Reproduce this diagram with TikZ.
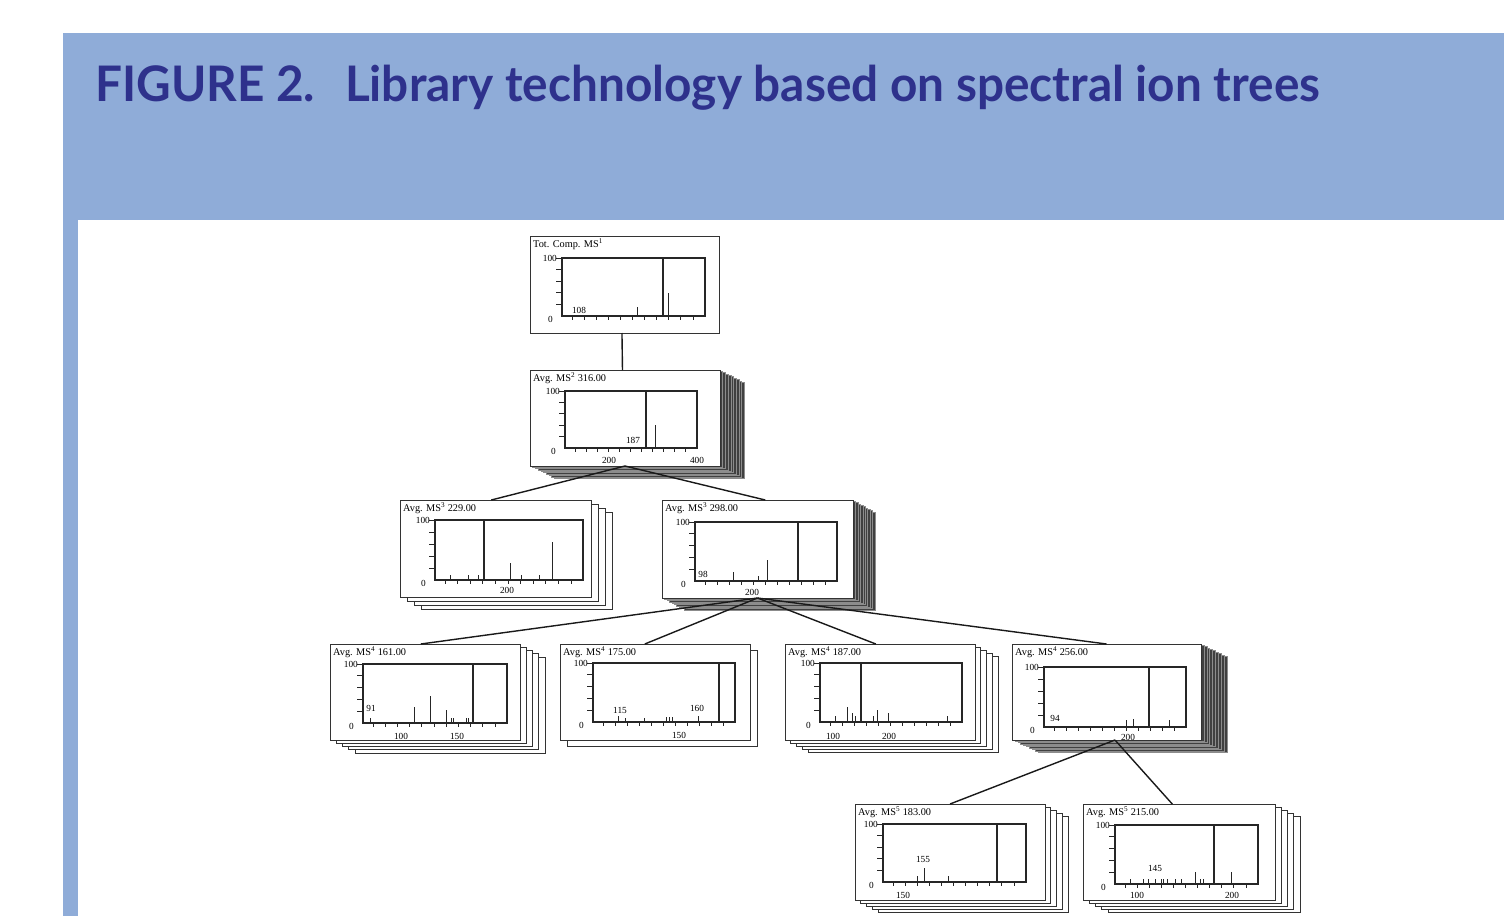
\documentclass[tikz,border=0pt]{standalone}
\usepackage{fontspec}
\usepackage{graphicx}
\setmainfont{Liberation Serif}
\newfontfamily\headfont{Lato}
\definecolor{band-blue}{RGB}{143,172,216}
\definecolor{title-blue}{RGB}{46,49,140}
\tikzstyle{sheet}=[draw=black!80,fill=white,line width=0.9pt]
\tikzstyle{back-sheet}=[sheet]
\tikzstyle{dark-sheet}=[sheet,fill=black!75,draw=black!45,line width=0.6pt]
\tikzstyle{front-sheet}=[sheet,rectangle,inner sep=0pt,outer sep=0pt,anchor=north west]
\tikzstyle{sheet-title}=[font=\fontsize{10.3}{11}\selectfont,inner sep=0pt,anchor=north west]
\tikzstyle{tick-label}=[font=\fontsize{9.3}{10}\selectfont,inner sep=0pt]
\tikzstyle{axis-line}=[draw=black!85,line width=1.2pt]
\tikzstyle{peak-line}=[draw=black!85,line width=0.9pt]
\tikzstyle{tree-line}=[draw=black!90,line width=1.4pt]

% stacked spectrum sheet: name, left, top, right, bottom, copies, dx, dy, title
\newcommand{\ionsheet}[9]{%
  \foreach \k in {#6,...,1}
    \draw[back-sheet] ({#2+\k*#7},{#3+\k*#8}) rectangle ({#4+\k*#7},{#5+\k*#8});
  \node (#1)[front-sheet,minimum width={#4-#2},minimum height={#5-#3}] at (#2,#3) {};
  \node (#1-title)[sheet-title] at ({#2+3},{#3+3}) {#9};
}
% plot frame: name, left, top, right, bottom, precursor line
\newcommand{\ionaxes}[6]{%
  \draw[axis-line] (#2,#3) rectangle (#4,#5);
  \draw[axis-line] (#6,#3) -- (#6,#5);
  \foreach \k in {0,...,4}
    \draw[peak-line] ({#2-6},{#3+\k*(#5-#3)/5}) -- (#2,{#3+\k*(#5-#3)/5});
  \foreach \k in {0,...,10}
    \draw[peak-line] ({#2+10+\k*(#4-#2-22)/10},#5) -- ({#2+10+\k*(#4-#2-22)/10},{#5+4});
  \node (#1-top)[tick-label,anchor=east] at ({#2-5},#3) {100};
  \node (#1-zero)[tick-label,anchor=east] at ({#2-9},{#5+3}) {0};
}

\begin{document}
\begin{tikzpicture}[x=1pt,y=-1pt]
	\useasboundingbox (0,0) rectangle (1504,916);
	\fill[band-blue] (63,33) rectangle (1504,220);
	\fill[band-blue] (63,220) rectangle (78,916);
	\node (fig-title)[anchor=base west,text=title-blue,inner sep=0pt] at (95,101)
		{\resizebox{1225pt}{\height}{\headfont\bfseries\fontsize{49}{49}\selectfont FIGURE 2.\hspace{0.3em} Library technology based on spectral ion trees}};

	% MS1
	\ionsheet{ms1}{530}{236}{719}{333}{1}{0}{0}{Tot. Comp. MS\textsuperscript{1}}
	\ionaxes{ms1}{562}{258}{705}{316}{663}
	\foreach \px/\py in {637/307,668/293} \draw[peak-line] (\px,316) -- (\px,\py);
	\node (ms1-p1)[tick-label] at (579,310) {108};

	% MS2
	\begin{scope}[back-sheet/.style={dark-sheet}]
	\ionsheet{ms2}{530}{370}{720}{466}{9}{2.7}{1.35}{Avg. MS\textsuperscript{2} 316.00}
	\end{scope}
	\ionaxes{ms2}{565}{391}{697}{448}{646}
	\draw[peak-line] (655,448) -- (655,425);
	\node (ms2-p1)[tick-label] at (633,440) {187};
	\node (ms2-x1)[tick-label] at (609,460) {200};
	\node (ms2-x2)[tick-label] at (697,460) {400};

	% MS3
	\ionsheet{ms3a}{400}{500}{591}{597}{3}{7.3}{4.3}{Avg. MS\textsuperscript{3} 229.00}
	\ionaxes{ms3a}{435}{520}{583}{580}{484}
	\foreach \px/\py in {450/575,468/575,478/575,510/563,521/575,539/575,552/542} \draw[peak-line] (\px,580) -- (\px,\py);
	\node (ms3a-x1)[tick-label] at (507,590) {200};

	\begin{scope}[back-sheet/.style={dark-sheet}]
	\ionsheet{ms3b}{662}{500}{853}{598}{9}{2.45}{1.33}{Avg. MS\textsuperscript{3} 298.00}
	\end{scope}
	\ionaxes{ms3b}{695}{522}{837}{581}{798}
	\foreach \px/\py in {733/572,758/576,767/560} \draw[peak-line] (\px,581) -- (\px,\py);
	\node (ms3b-p1)[tick-label] at (703,574) {98};
	\node (ms3b-x1)[tick-label] at (752,592) {200};

	% MS4
	\ionsheet{ms4a}{330}{644}{520}{740}{4}{6.3}{3.3}{Avg. MS\textsuperscript{4} 161.00}
	\ionaxes{ms4a}{363}{664}{507}{723}{473}
	\foreach \px/\py in {370/718,414/707,430/696,446/710,451/718,453/718,466/718,468/718} \draw[peak-line] (\px,723) -- (\px,\py);
	\node (ms4a-p1)[tick-label] at (371,708) {91};
	\node (ms4a-x1)[tick-label] at (401,736) {100};
	\node (ms4a-x2)[tick-label] at (457,736) {150};

	\ionsheet{ms4b}{560}{644}{750}{740}{1}{7.5}{6.5}{Avg. MS\textsuperscript{4} 175.00}
	\ionaxes{ms4b}{593}{663}{735}{722}{719}
	\foreach \px/\py in {618/716,625/718,644/718,666/717,669/717,672/717,698/716} \draw[peak-line] (\px,722) -- (\px,\py);
	\node (ms4b-p1)[tick-label] at (620,710) {115};
	\node (ms4b-p2)[tick-label] at (697,708) {160};
	\node (ms4b-x1)[tick-label] at (679,735) {150};

	\ionsheet{ms4c}{785}{644}{975}{740}{4}{5.8}{3}{Avg. MS\textsuperscript{4} 187.00}
	\ionaxes{ms4c}{820}{663}{962}{722}{861}
	\foreach \px/\py in {835/716,847/707,852/713,855/716,873/716,877/710,888/713,947/716} \draw[peak-line] (\px,722) -- (\px,\py);
	\node (ms4c-x1)[tick-label] at (833,736) {100};
	\node (ms4c-x2)[tick-label] at (889,736) {200};

	\begin{scope}[back-sheet/.style={dark-sheet}]
	\ionsheet{ms4d}{1012}{644}{1201}{740}{9}{2.9}{1.35}{Avg. MS\textsuperscript{4} 256.00}
	\end{scope}
	\ionaxes{ms4d}{1044}{667}{1186}{727}{1149}
	\foreach \px/\py in {1126/720,1133/719,1169/720} \draw[peak-line] (\px,727) -- (\px,\py);
	\node (ms4d-p1)[tick-label] at (1055,718) {94};
	\node (ms4d-x1)[tick-label] at (1128,737) {200};

	% MS5
	\ionsheet{ms5a}{855}{804}{1045}{900}{4}{5.8}{3}{Avg. MS\textsuperscript{5} 183.00}
	\ionaxes{ms5a}{883}{824}{1026}{882}{997}
	\foreach \px/\py in {917/876,924/868,948/876} \draw[peak-line] (\px,882) -- (\px,\py);
	\node (ms5a-p1)[tick-label] at (923,859) {155};
	\node (ms5a-x1)[tick-label] at (903,895) {150};

	\ionsheet{ms5b}{1083}{804}{1275}{900}{4}{6.3}{3}{Avg. MS\textsuperscript{5} 215.00}
	\ionaxes{ms5b}{1115}{825}{1258}{884}{1214}
	\foreach \px in {1130,1143,1148,1155,1161,1163,1167,1175,1181,1200,1203} \draw[peak-line] (\px,884) -- (\px,879);
	\foreach \px in {1195,1231} \draw[peak-line] (\px,884) -- (\px,872);
	\node (ms5b-p1)[tick-label] at (1155,868) {145};
	\node (ms5b-x1)[tick-label] at (1137,895) {100};
	\node (ms5b-x2)[tick-label] at (1232,895) {200};

	% tree
	\draw[tree-line] (ms1.-93) -- (ms2.93);
	\draw[tree-line] (ms2.south) -- (ms3a.95);
	\draw[tree-line] (ms2.south) -- (ms3b.81);
	\draw[tree-line] (ms3b.south) -- (ms4a.95);
	\draw[tree-line] (ms3b.south) -- (ms4b.102);
	\draw[tree-line] (ms3b.south) -- (ms4c.95);
	\draw[tree-line] (ms3b.south) -- (ms4d.north);
	\draw[tree-line] (ms4d.-80) -- (ms5a.north);
	\draw[tree-line] (ms4d.-80) -- (ms5b.98);
\end{tikzpicture}
\end{document}
